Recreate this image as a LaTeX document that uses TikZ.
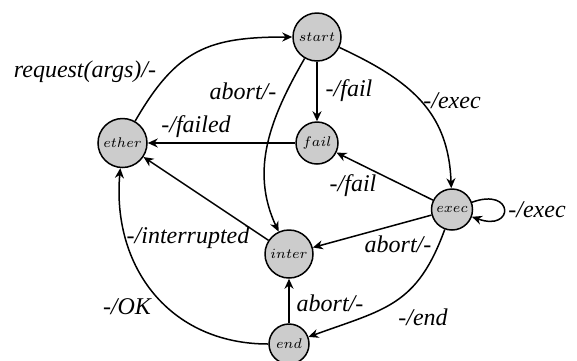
\documentclass[tikz,border=0pt]{standalone}
\usepackage{fontspec}
\setmainfont{Liberation Serif}
\usetikzlibrary{arrows.meta}
\definecolor{stategray}{HTML}{CCCCCC}
\begin{document}
\begin{tikzpicture}[x=0.5pt,y=-0.5pt,
  stateB/.style={circle,draw=black,line width=0.75pt,fill=stategray,inner sep=0pt,font=\scriptsize},
  lbl/.style={font=\fontsize{12}{14}\selectfont\itshape,inner sep=0pt},
  conn/.style={line width=0.75pt,-{Stealth[length=5pt,width=4.5pt,inset=1.6pt]}}]
\useasboundingbox (0,0) rectangle (577,360);
\node[stateB,minimum size=24pt] (start) at (317,37) {$start$};
\node[stateB,minimum size=21pt] (fail) at (317,143) {$fail$};
\node[stateB,minimum size=24.5pt] (ether) at (122.5,143) {$ether$};
\node[stateB,minimum size=20.5pt] (exec) at (452,209.5) {$exec$};
\node[stateB,minimum size=24pt] (inter) at (289,254) {$inter$};
\node[stateB,minimum size=20pt] (end) at (289,344) {$end$};

\draw[conn] (ether) to[out=60,in=180,looseness=1.2] (start);
\draw[conn] (start) -- (fail);
\draw[conn] (start) to[out=-25,in=92,looseness=1.1] (exec);
\draw[conn] (start) to[out=240,in=115] (inter);
\draw[conn] (fail) -- (ether);
\draw[conn] (exec) -- (fail);
\draw[conn] (exec) to[loop,out=20,in=-20,looseness=8,min distance=18pt] (exec);
\draw[conn] (exec) -- (inter);
\draw[conn] (exec) to[out=-110,in=20,looseness=1.2] (end);
\draw[conn] (inter) -- (ether);
\draw[conn] (end) -- (inter);
\draw[conn] (end) to[out=180,in=-95,looseness=1.1] (ether);

\node[lbl] (l1) at (85,72) {request(args)/-};
\node[lbl] (l2) at (243,91) {abort/-};
\node[lbl] (l3) at (349,91) {-/fail};
\node[lbl] (l4) at (452,101) {-/exec};
\node[lbl] (l5) at (196,127) {-/failed};
\node[lbl] (l6) at (353,186) {-/fail};
\node[lbl] (l7) at (537,210) {-/exec};
\node[lbl] (l8) at (398,244) {abort/-};
\node[lbl] (l9) at (423,317) {-/end};
\node[lbl] (l10) at (188,238) {-/interrupted};
\node[lbl] (l11) at (330,303) {abort/-};
\node[lbl] (l12) at (127,307) {-/OK};
\end{tikzpicture}
\end{document}
